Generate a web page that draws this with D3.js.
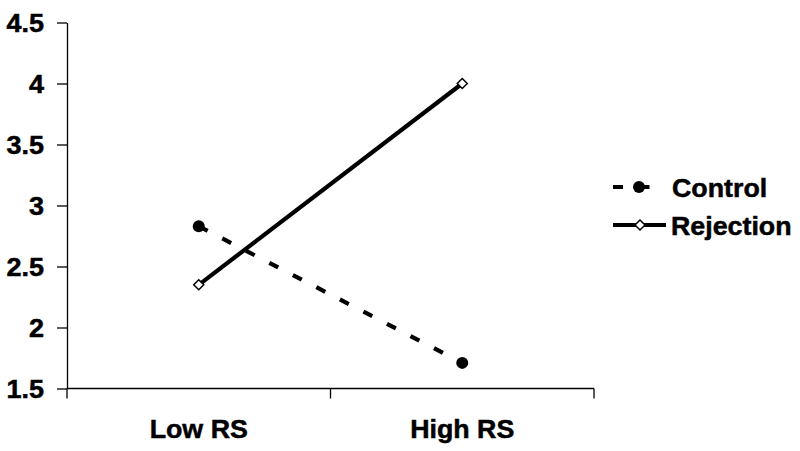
<!DOCTYPE html>
<html>
<head>
<meta charset="utf-8">
<script src="https://cdn.jsdelivr.net/npm/d3@7"></script>
<style>
  html, body { margin: 0; padding: 0; background: #fff; }
  svg { display: block; }
  text { font-family: "Liberation Sans", Arial, sans-serif; font-weight: bold; fill: #000; stroke: #000; stroke-width: 0.5px; }
</style>
</head>
<body>
<svg id="chart" width="800" height="451"></svg>
<script>
const categories = ["Low RS", "High RS"];
const controlValues = [2.83, 1.71];
const rejectionValues = [2.35, 4.0];
const yTickValues = [1.5, 2, 2.5, 3, 3.5, 4, 4.5];
const yTickLabels = ["1.5", "2", "2.5", "3", "3.5", "4", "4.5"];
const seriesNames = ["Control", "Rejection"];

const svg = d3.select("#chart");

const x = d3.scaleBand().domain(categories).range([67, 594]).padding(0);
const y = d3.scaleLinear().domain([1.5, 4.5]).range([388.5, 22.5]);
const cx = c => x(c) + x.bandwidth() / 2;

function widen(sel, f) {
  sel.each(function () {
    const w = this.getComputedTextLength();
    d3.select(this).attr("textLength", w * f).attr("lengthAdjust", "spacingAndGlyphs");
  });
}

// Y axis
const yAxis = d3.axisLeft(y)
  .tickValues(yTickValues)
  .tickFormat((d, i) => yTickLabels[i])
  .tickSize(10)
  .tickSizeOuter(0)
  .tickPadding(13);
const gy = svg.append("g").attr("transform", "translate(67,0)").call(yAxis);
gy.attr("font-size", null).attr("font-family", null);
gy.select(".domain").attr("stroke", "#000").attr("stroke-width", 1.3);
gy.selectAll(".tick line").attr("stroke", "#000").attr("stroke-width", 1.3);
gy.selectAll(".tick text").style("font-size", "25px").attr("dy", "0.35em").attr("fill", "#000");
widen(gy.selectAll(".tick text"), 1.08);
gy.append("line").attr("x1", 0).attr("x2", 0).attr("y1", y(1.5)).attr("y2", y(1.5) + 10)
  .attr("stroke", "#000").attr("stroke-width", 1.3);

// X axis
const gx = svg.append("g").attr("transform", `translate(0,${y(1.5)})`);
gx.append("line").attr("x1", x.range()[0]).attr("x2", x.range()[1]).attr("y1", 0).attr("y2", 0)
  .attr("stroke", "#000").attr("stroke-width", 1.3);
const boundaries = categories.map(c => x(c)).concat([x(categories[categories.length - 1]) + x.bandwidth()]);
gx.selectAll("line.tk").data(boundaries.slice(1)).enter().append("line").attr("class", "tk")
  .attr("x1", d => d).attr("x2", d => d).attr("y1", 0).attr("y2", 10)
  .attr("stroke", "#000").attr("stroke-width", 1.3);
const xl = gx.selectAll("text").data(categories).enter().append("text")
  .attr("x", d => cx(d)).attr("y", 49.5).attr("text-anchor", "middle")
  .style("font-size", "26px").text(d => d);
widen(xl, 1.03);

// Lines
const line = d3.line().x((d, i) => cx(categories[i])).y(d => y(d));
svg.append("path").datum(controlValues).attr("d", line)
  .attr("fill", "none").attr("stroke", "#000").attr("stroke-width", 4.2)
  .attr("stroke-dasharray", "10,16.5");
svg.append("path").datum(rejectionValues).attr("d", line)
  .attr("fill", "none").attr("stroke", "#000").attr("stroke-width", 4.2);

// markers
svg.selectAll("circle.ctl").data(controlValues).enter().append("circle").attr("class", "ctl")
  .attr("cx", (d, i) => cx(categories[i])).attr("cy", d => y(d)).attr("r", 6).attr("fill", "#000");
const diamond = d3.symbol().type(d3.symbolDiamond2).size(64);
svg.selectAll("path.rej").data(rejectionValues).enter().append("path").attr("class", "rej")
  .attr("transform", (d, i) => `translate(${cx(categories[i])},${y(d)})`)
  .attr("d", diamond).attr("fill", "#fff").attr("stroke", "#000").attr("stroke-width", 1.5);

// Legend
const lg = svg.append("g");
lg.append("line").attr("x1", 613).attr("x2", 651).attr("y1", 187).attr("y2", 187)
  .attr("stroke", "#000").attr("stroke-width", 4.2).attr("stroke-dasharray", "10,16.5");
lg.append("circle").attr("cx", 639).attr("cy", 187).attr("r", 6).attr("fill", "#000");
const t1 = lg.append("text").attr("x", 672).attr("y", 196.5).style("font-size", "26px").text(seriesNames[0]);
lg.append("line").attr("x1", 613).attr("x2", 666).attr("y1", 225).attr("y2", 225)
  .attr("stroke", "#000").attr("stroke-width", 4.2);
lg.append("path").attr("transform", "translate(640,225)").attr("d", diamond)
  .attr("fill", "#fff").attr("stroke", "#000").attr("stroke-width", 1.5);
const t2 = lg.append("text").attr("x", 671).attr("y", 234.5).style("font-size", "26px").text(seriesNames[1]);
widen(t1, 1.03);
widen(t2, 1.03);
</script>
</body>
</html>
